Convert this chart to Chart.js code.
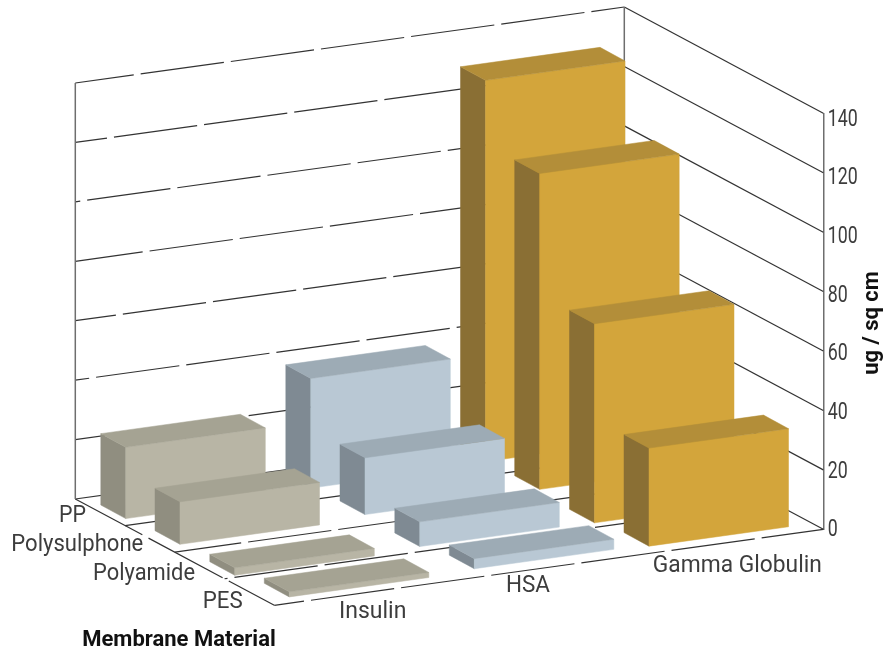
<!DOCTYPE html>
<html>
<head>
<meta charset="utf-8">
<title>Protein binding by membrane material</title>
<script src="https://cdn.jsdelivr.net/npm/chart.js@4"></script>
<style>
    html, body { margin: 0; padding: 0; background: #fff; }
    canvas { display: block; }
</style>
</head>
<body>
<canvas id="myChart" width="895" height="651"></canvas>
<script>
// values
const proteins = ['Insulin', 'HSA', 'Gamma Globulin']
const materials = ['PP', 'Polysulphone', 'Polyamide', 'PES']
const ppValues = [24, 36.9, 128.3]
const polysulphoneValues = [14.3, 19.1, 106.3]
const polyamideValues = [2.5, 8.3, 67]
const pesValues = [1.7, 3.4, 33]
const valueTicks = [0, 20, 40, 60, 80, 100, 120, 140]
const valueTitle = 'ug / sq cm'
const materialTitle = 'Membrane Material'

// look of the 3d box: front, top, left
const faceColors = [
    ['#b8b5a5', '#a5a393', '#908e80'],
    ['#b9c8d4', '#9dabb5', '#7f8a93'],
    ['#d3a53b', '#b38e39', '#8a6f34']
]

// oblique projection, all in pixels
const floorWidth = { x: 549, y: -76 }
const floorDepth = { x: 199, y: 106.3 }
const boxWidth = { x: 139.5, y: -19.4 }
const boxDepth = { x: 25, y: 13.6 }
const firstBox = { x: 25.5, y: 6 }
const columnShift = [[0, 0], [185, -30.5], [359.7, -57]]
const columnStretch = [1, 1.03, 1.08] // rows spread a bit more towards the back corner
const rowShift = [[0, 0], [54.2, 25.7], [109, 56.7], [163.5, 78.3]]

const floorOrigin = (chart) => ({
    x: chart.chartArea.right - floorWidth.x - floorDepth.x,
    y: chart.scales.y.getPixelForValue(0) - floorWidth.y - floorDepth.y
})

function polygon(ctx, points, color) {
    ctx.beginPath()
    points.forEach((p, i) => i ? ctx.lineTo(p.x, p.y) : ctx.moveTo(p.x, p.y))
    ctx.closePath()
    ctx.fillStyle = color
    ctx.fill()
    ctx.strokeStyle = color
    ctx.lineWidth = 0.5
    ctx.stroke()
}

class Bar3dController extends Chart.BarController {
    draw() {
        const chart = this.chart
        const ctx = chart.ctx
        const yScale = chart.scales.y
        const row = this.getDataset().row
        const origin = floorOrigin(chart)
        ctx.save()
        this.getDataset().data.forEach((value, col) => {
            const back = {
                x: origin.x + firstBox.x + columnShift[col][0] + rowShift[row][0],
                y: origin.y + firstBox.y + columnShift[col][1] + rowShift[row][1] * columnStretch[col]
            }
            const h = yScale.getPixelForValue(0) - yScale.getPixelForValue(value)
            const at = (w, d, up) => ({
                x: back.x + w * boxWidth.x + d * boxDepth.x,
                y: back.y + w * boxWidth.y + d * boxDepth.y - up * h
            })
            const [front, top, left] = faceColors[col]
            polygon(ctx, [at(0, 0, 0), at(0, 1, 0), at(0, 1, 1), at(0, 0, 1)], left)
            polygon(ctx, [at(0, 1, 0), at(1, 1, 0), at(1, 1, 1), at(0, 1, 1)], front)
            polygon(ctx, [at(0, 0, 1), at(0, 1, 1), at(1, 1, 1), at(1, 0, 1)], top)
        })
        ctx.restore()
    }
}
Bar3dController.id = 'bar3d'
Bar3dController.defaults = Chart.BarController.defaults
Bar3dController.overrides = Chart.BarController.overrides
Chart.register(Bar3dController)

function gridLine(ctx, a, b, firstGap) {
    ctx.beginPath()
    if (firstGap) {
        ctx.setLineDash([84, 7])
        ctx.lineDashOffset = 84 - firstGap
    } else {
        ctx.setLineDash([])
    }
    ctx.moveTo(a.x, a.y)
    ctx.lineTo(b.x, b.y)
    ctx.stroke()
}

const wallsPlugin = {
    id: 'walls',
    beforeDatasetsDraw(chart) {
        const ctx = chart.ctx
        const yScale = chart.scales.y
        const o = floorOrigin(chart)
        const up = (v) => yScale.getPixelForValue(0) - yScale.getPixelForValue(v)
        ctx.save()
        ctx.strokeStyle = '#333'
        ctx.lineWidth = 1.2

        // lines on the back wall and on the side wall
        valueTicks.forEach((v, i) => {
            const k = valueTicks.length - 1 - i
            const left = { x: o.x, y: o.y - up(v) }
            const corner = { x: o.x + floorWidth.x, y: o.y + floorWidth.y - up(v) }
            const side = { x: corner.x + floorDepth.x, y: corner.y + floorDepth.y }
            gridLine(ctx, left, corner, ((56 - 27 * k) % 90 + 90) % 90 + 3)
            gridLine(ctx, corner, side)
        })

        // floor lines, one per material
        materials.forEach((m, i) => {
            const f = (i + 1) / materials.length
            const a = { x: o.x + f * floorDepth.x, y: o.y + f * floorDepth.y }
            const b = { x: a.x + floorWidth.x, y: a.y + floorWidth.y }
            gridLine(ctx, a, b, 40 + 27 * i)
        })
        gridLine(ctx, o, { x: o.x + floorDepth.x, y: o.y + floorDepth.y }, 76)

        // corner posts
        ctx.strokeStyle = '#6e6e6e'
        ctx.lineWidth = 1.5
        gridLine(ctx, o, { x: o.x, y: o.y - up(140) })
        const cx = o.x + floorWidth.x
        const cy = o.y + floorWidth.y
        gridLine(ctx, { x: cx, y: cy }, { x: cx, y: cy - up(140) })
        ctx.restore()
    }
}

// text sits where the picture has it, squeezed to the width of the original face
const labelSpots = {
    proteins: [[372.7, 612.5, 68], [528, 586.5, 44], [737.3, 566.5, 169]],
    materials: [[86, 516, 27], [143.3, 545, 132], [195, 574, 102], [242.7, 602, 40]]
}

const labelsPlugin = {
    id: 'labels',
    afterDraw(chart) {
        const ctx = chart.ctx
        const yScale = chart.scales.y
        ctx.save()
        ctx.fillStyle = '#3d3d3d'
        ctx.font = '400 23px Roboto'
        ctx.textBaseline = 'middle'

        ctx.textAlign = 'left'
        yScale.ticks.forEach(t => {
            // the printed numbers drift a little below their lines going up
            const y = yScale.getPixelForValue(t.value) + 1.4 + 5.3 * t.value / 140
            const w = String(t.value).length * 10
            ctx.fillText(t.label, chart.chartArea.right + 4.5, y, w)
        })

        ctx.textAlign = 'center'
        proteins.forEach((p, i) => {
            const [x, y, w] = labelSpots.proteins[i]
            ctx.fillText(p, x, y, w)
        })

        ctx.textAlign = 'right'
        materials.forEach((m, i) => {
            const [x, y, w] = labelSpots.materials[i]
            ctx.fillText(m, x, y, w)
        })

        ctx.fillStyle = '#111'
        ctx.font = '700 22px Roboto'
        ctx.textAlign = 'center'
        ctx.fillText(materialTitle, 179, 640, 195)
        ctx.translate(872, 323)
        ctx.rotate(-Math.PI / 2)
        ctx.fillText(valueTitle, 0, 0, 105)
        ctx.restore()
    }
}

const rows = [ppValues, polysulphoneValues, polyamideValues, pesValues]

new Chart(document.getElementById('myChart'), {
    type: 'bar3d',
    data: {
        labels: proteins,
        datasets: rows.map((values, row) => ({
            label: materials[row],
            data: values,
            row: row,
            order: rows.length - row, // back row first
            clip: false
        }))
    },
    options: {
        responsive: false,
        animation: false,
        layout: { padding: { top: 113.3, bottom: 121.7, left: 0, right: 0 } },
        plugins: { legend: { display: false }, tooltip: { enabled: false } },
        scales: {
            x: { type: 'category', display: false },
            y: {
                type: 'linear',
                position: 'right',
                min: 0,
                max: 140,
                afterBuildTicks: (scale) => { scale.ticks = valueTicks.map(v => ({ value: v })) },
                afterFit: (scale) => { scale.width = 71.7 },
                grid: { display: false, drawTicks: false },
                border: { display: true, color: '#6e6e6e', width: 1.5 },
                ticks: { display: true, color: 'rgba(0,0,0,0)', callback: (v) => String(v) }
            }
        }
    },
    plugins: [wallsPlugin, labelsPlugin]
})
</script>
</body>
</html>
